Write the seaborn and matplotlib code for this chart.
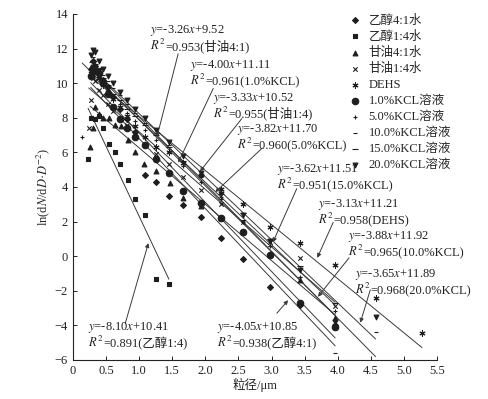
import numpy as np
import pandas as pd
import seaborn as sns
import matplotlib
matplotlib.use('Agg')
import matplotlib.pyplot as plt
from matplotlib.offsetbox import TextArea, HPacker, VPacker, AnnotationBbox

# --- 데이터 ---
x_common = [0.27, 0.30, 0.34, 0.40, 0.46, 0.53, 0.61, 0.71, 0.82, 0.94, 1.09,
            1.26, 1.45, 1.67, 1.93, 2.23, 2.57, 2.97, 3.43, 3.96, 4.57, 5.27]

labels = ['乙醇4:1水', '乙醇1:4水', '甘油4:1水', '甘油1:4水', 'DEHS',
          '1.0%KCL溶液', '5.0%KCL溶液', '10.0%KCL溶液', '15.0%KCL溶液', '20.0%KCL溶液']

x_eth41 = x_common[:20]
y_eth41 = [10.8, 11.3, 11.0, 10.6, 10.2, 9.8, 9.2, 8.5, 7.9, 7.2, 4.7,
           4.3, 3.5, 2.95, 2.25, 1.05, -0.15, -1.8, -2.8, -4.0]

x_eth14 = [0.23, 0.27, 0.34, 0.40, 0.46, 0.55, 0.63, 0.71, 0.83, 0.94, 1.09, 1.26, 1.45]
y_eth14 = [5.6, 8.0, 7.9, 8.1, 7.4, 6.5, 6.0, 5.3, 4.4, 3.3, 2.4, -1.35, -1.6]

x_gly41 = [0.26, 0.30, 0.34, 0.40, 0.46, 0.55, 0.63, 0.72, 0.83, 0.94, 1.08,
           1.26, 1.46, 1.66, 1.93, 2.23, 2.57, 2.97, 3.43, 3.96]
y_gly41 = [6.3, 7.4, 8.6, 8.2, 8.0, 8.0, 7.6, 7.5, 6.7, 6.0, 5.3,
           4.9, 4.2, 3.35, 2.9, 2.2, 1.4, 0.1, -1.4, -3.6]

x_gly14 = [0.24] + x_common[:20]
y_gly14 = [7.4, 9.0, 10.3, 10.1, 9.6, 9.3, 8.8, 8.4, 8.0, 7.6, 7.1, 6.5,
           5.9, 5.3, 4.6, 3.8, 3.0, 2.0, 0.8, -0.1, -2.9]

x_dehs = x_common
y_dehs = [10.6, 11.0, 10.7, 10.3, 9.9, 9.5, 9.1, 8.6, 8.1, 7.5, 6.9,
          6.3, 6.0, 5.4, 4.7, 3.9, 3.0, 1.7, 0.75, -0.5, -2.4, -4.45]

x_kcl1 = x_common[:20]
y_kcl1 = [10.4, 10.9, 10.7, 10.6, 10.0, 9.4, 8.6, 7.9, 7.4, 6.9, 6.4,
          5.6, 4.8, 3.75, 3.05, 2.2, 1.4, 0.05, -2.7, -4.1]

x_kcl5 = [0.14] + x_common[:20]
y_kcl5 = [6.9, 10.9, 11.2, 11.0, 10.4, 10.0, 9.6, 9.2, 8.8, 8.3, 7.8,
          7.3, 6.7, 6.0, 5.2, 4.3, 3.3, 2.0, 0.6, -1.2, -3.2]

x_kcl10 = x_common[:21]
y_kcl10 = [11.2, 11.5, 11.3, 10.9, 10.5, 10.1, 9.7, 9.3, 8.8, 8.3, 7.7,
           7.1, 6.4, 5.5, 4.6, 3.4, 2.1, 0.6, -1.2, -5.6, -4.4]

x_kcl15 = x_common[:20]
y_kcl15 = [10.8, 11.3, 11.1, 10.8, 10.3, 9.9, 9.4, 9.0, 8.5, 8.1, 7.6,
           7.0, 6.3, 5.5, 4.7, 3.6, 2.5, 1.0, -0.6, -2.7]

x_kcl20 = x_common[:21]
y_kcl20 = [11.6, 11.9, 11.8, 11.3, 10.8, 10.4, 10.0, 9.5, 9.0, 8.5, 8.0,
           7.3, 6.6, 5.8, 4.8, 3.6, 2.4, 0.9, -0.8, -3.8, -3.5]

# 회귀식 (그림의 식)
slopes = [-4.05, -8.10, -3.26, -3.33, -3.13, -4.00, -3.82, -3.88, -3.62, -3.65]
intercepts = [10.85, 10.41, 9.52, 10.52, 11.21, 11.11, 11.70, 11.92, 11.51, 11.89]
r2_vals = ['0.938', '0.891', '0.953', '0.955', '0.958', '0.961', '0.960', '0.965', '0.951', '0.968']
tags = ['乙醇4:1', '乙醇1:4', '甘油4:1', '甘油1:4', 'DEHS',
        '1.0%KCL', '5.0%KCL', '10.0%KCL', '15.0%KCL', '20.0%KCL']

xs = [x_eth41, x_eth14, x_gly41, x_gly14, x_dehs, x_kcl1, x_kcl5, x_kcl10, x_kcl15, x_kcl20]
ys = [y_eth41, y_eth14, y_gly41, y_gly14, y_dehs, y_kcl1, y_kcl5, y_kcl10, y_kcl15, y_kcl20]

markers = ['D', 's', '^', 'x', (6, 2, 0), 'o', '+', '_', '_', 'v']
msizes = [9, 12, 12, 10, 14, 22, 12, 8, 16, 12]

# --- 스타일 ---
sns.set_style('ticks')
FAMILY = ['Liberation Serif', 'Noto Sans CJK SC']
plt.rcParams['font.family'] = FAMILY
plt.rcParams['mathtext.fontset'] = 'stix'
plt.rcParams['xtick.direction'] = 'in'
plt.rcParams['ytick.direction'] = 'in'

fig = plt.figure(figsize=(4.89, 3.99), dpi=100)
ax = fig.add_axes([0.149, 0.098, 0.745, 0.867])

pt_color = '#1e1e1e'
line_color = '#3a3a3a'
txt_color = '#222222'

for i, name in enumerate(labels):
    df = pd.DataFrame({'x': xs[i], 'y': ys[i]})
    sns.scatterplot(data=df, x='x', y='y', ax=ax, marker=markers[i], s=msizes[i],
                    color=pt_color, edgecolor=pt_color, linewidth=0.8, label=name, zorder=3)
    fx = [min(xs[i]), max(xs[i])]
    fit = pd.DataFrame({'x': fx, 'y': [slopes[i] * v + intercepts[i] for v in fx]})
    sns.lineplot(data=fit, x='x', y='y', ax=ax, color=line_color, lw=0.7, legend=False, zorder=2)

# --- 주석: 시리즈 번호, 텍스트 위치, 화살표 시작, 화살표 끝 ---
notes = [
    (2, (1.16, 12.6), (1.59, 11.7), (1.27, 6.9)),
    (5, (1.77, 10.6), (2.12, 9.7), (1.59, 5.4)),
    (3, (2.12, 8.7), (2.55, 7.95), (1.92, 4.9)),
    (6, (2.48, 6.9), (2.86, 6.25), (2.15, 3.7)),
    (8, (3.08, 4.55), (3.38, 3.9), (3.02, 0.8)),
    (4, (3.70, 2.55), (3.93, 1.95), (3.69, -0.1)),
    (7, (4.15, 0.7), (4.17, -0.1), (3.70, -2.35)),
    (9, (4.26, -1.5), (4.49, -1.95), (4.34, -3.85)),
    (0, (2.18, -4.55), (3.08, -3.3), (3.25, -2.55)),
    (1, (0.23, -4.55), (0.79, -3.9), (1.14, 0.75)),
]
tp = dict(fontsize=9, color=txt_color)
for k, tpos, a0, a1 in notes:
    b = intercepts[k]
    eq = r'$y$=%.2f$x$+%.2f' % (slopes[k], b)
    l1 = TextArea(eq, textprops=tp)
    r = TextArea(r'$R^2$', textprops=tp)
    rest = TextArea('=%s(%s)' % (r2_vals[k], tags[k]), textprops=dict(tp, family=FAMILY))
    l2 = HPacker(children=[r, rest], pad=0, sep=0, align='baseline')
    box = VPacker(children=[l1, l2], pad=0, sep=0, align='left')
    ab = AnnotationBbox(box, tpos, xycoords='data', box_alignment=(0, 0.5),
                        frameon=False, pad=0, zorder=4)
    ax.add_artist(ab)
    ax.annotate('', xy=a1, xytext=a0,
                arrowprops=dict(arrowstyle='-|>', lw=0.7, color=line_color,
                                mutation_scale=6, shrinkA=0, shrinkB=0))

ax.set_xlim(0, 5.5)
ax.set_ylim(-6, 14)
ax.set_xticks(np.arange(0, 5.51, 0.5))
ax.set_xticklabels(['0'] + [f'{v:.1f}' for v in np.arange(0.5, 5.51, 0.5)])
ax.set_yticks(np.arange(-6, 14.1, 2))
ax.tick_params(labelsize=9, length=3, width=0.7, colors=txt_color)
for s in ['top', 'right']:
    ax.spines[s].set_visible(False)
for s in ['left', 'bottom']:
    ax.spines[s].set_linewidth(0.8)
    ax.spines[s].set_color(txt_color)

ax.set_xlabel('粒径/μm', fontsize=9, labelpad=1)
ax.set_ylabel(r'ln(d$N$/d$D$·$D^{-2}$)', fontsize=9, labelpad=2)

leg = ax.legend(loc='upper left', bbox_to_anchor=(0.695, 0.985), bbox_transform=fig.transFigure,
                frameon=False, fontsize=9, labelspacing=0.32, handletextpad=0.6,
                handlelength=1.0, borderpad=0.2)

plt.savefig('out.png', dpi=100)
